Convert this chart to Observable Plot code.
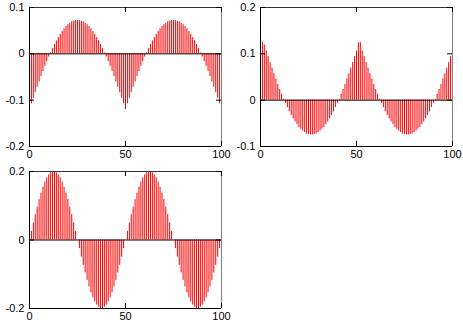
<!DOCTYPE html>
<html><head><meta charset="utf-8">
<script src="https://cdn.jsdelivr.net/npm/d3@7"></script>
<script src="https://cdn.jsdelivr.net/npm/@observablehq/plot@0.6"></script>
<style>
body{margin:0;background:#fff;}
#wrap{position:relative;width:463px;height:327px;overflow:hidden;background:#fff;}
.panel{position:absolute;}
.panel svg{display:block;}
</style></head><body><div id="wrap"></div>
<script>
const xValues = d3.range(0, 101);
const xTicks = [0, 50, 100];

const ticksA = [-0.2, -0.1, 0, 0.1];
const ticksB = [-0.1, 0, 0.1, 0.2];
const ticksC = [-0.2, 0, 0.2];

const seriesA = [
 -0.120,-0.108,-0.096,-0.084,-0.072,-0.061,-0.049,-0.038,-0.027,-0.017,-0.007,
 0.002,0.011,0.020,0.028,0.035,0.042,0.048,0.054,0.059,0.063,
 0.066,0.069,0.070,0.072,0.072,0.072,0.070,0.069,0.066,0.063,
 0.059,0.054,0.048,0.042,0.035,0.028,0.020,0.011,0.002,-0.007,
 -0.017,-0.027,-0.038,-0.049,-0.061,-0.072,-0.084,-0.096,-0.108,-0.120,
 -0.108,-0.096,-0.084,-0.072,-0.061,-0.049,-0.038,-0.027,-0.017,-0.007,
 0.002,0.011,0.020,0.028,0.035,0.042,0.048,0.054,0.059,0.063,
 0.066,0.069,0.070,0.072,0.072,0.072,0.070,0.069,0.066,0.063,
 0.059,0.054,0.048,0.042,0.035,0.028,0.020,0.011,0.002,-0.007,
 -0.017,-0.027,-0.038,-0.049,-0.061,-0.072,-0.084,-0.096,-0.108,-0.120
];

const seriesB = [
 0.125,0.125,
 0.119,0.106,0.094,0.081,0.069,0.057,0.046,0.034,0.023,0.013,0.002,-0.007,-0.016,-0.025,-0.033,-0.040,-0.047,-0.053,-0.059,-0.063,-0.067,-0.070,-0.073,-0.074,-0.075,
 -0.075,-0.074,-0.073,-0.070,-0.067,-0.063,-0.059,-0.053,-0.047,-0.040,-0.033,-0.025,-0.016,-0.007,0.002,0.013,0.023,0.034,0.046,0.057,0.069,0.081,0.094,0.106,0.124,
 0.124,0.106,0.094,0.081,0.069,0.057,0.046,0.034,0.023,0.013,0.002,-0.007,-0.016,-0.025,-0.033,-0.040,-0.047,-0.053,-0.059,-0.063,-0.067,-0.070,-0.073,-0.074,-0.075,
 -0.075,-0.074,-0.073,-0.070,-0.067,-0.063,-0.059,-0.053,-0.047,-0.040,-0.033,-0.025,-0.016,-0.007,0.002,0.013,0.023,0.034,0.046,0.057,0.069,0.081,0.094,0.106
];

const seriesC = [
 0,0.025,0.050,0.074,0.096,0.118,0.137,0.154,0.169,0.181,0.190,0.196,0.200,0.200,0.196,0.190,0.181,0.169,0.154,0.137,0.118,0.096,0.074,0.050,0.025,0,
 -0.025,-0.050,-0.074,-0.096,-0.118,-0.137,-0.154,-0.169,-0.181,-0.190,-0.196,-0.200,-0.200,-0.196,-0.190,-0.181,-0.169,-0.154,-0.137,-0.118,-0.096,-0.074,-0.050,-0.025,0,
 0.025,0.050,0.074,0.096,0.118,0.137,0.154,0.169,0.181,0.190,0.196,0.200,0.200,0.196,0.190,0.181,0.169,0.154,0.137,0.118,0.096,0.074,0.050,0.025,0,
 -0.025,-0.050,-0.074,-0.096,-0.118,-0.137,-0.154,-0.169,-0.181,-0.190,-0.196,-0.200,-0.200,-0.196,-0.190,-0.181,-0.169,-0.154,-0.137,-0.118,-0.096,-0.074,-0.050,-0.025,0
];

const fmt = d => String(d);

function makePanel(p) {
  const innerW = p.width - p.ml - p.mr, innerH = p.height - p.mt - p.mb;
  const chart = Plot.plot({
    width: p.width, height: p.height,
    marginLeft: p.ml, marginRight: p.mr, marginTop: p.mt, marginBottom: p.mb,
    x: {domain: [0, 100]},
    y: {domain: p.yDomain},
    style: {fontFamily: '"Liberation Sans", Arial, sans-serif', fontSize: "11px", color: "#000", background: "#fff"},
    marks: [
      Plot.ruleX(xValues, {x: d => d, y1: 0, y2: d => p.values[d], stroke: "#ff0000", strokeWidth: 1}),
      Plot.ruleY([0], {stroke: "#000"}),
      Plot.ruleY([p.yDomain[1]], {stroke: "#333"}),
      Plot.ruleX([100], {stroke: "#808080"}),
      Plot.ruleX([0], {stroke: "#000"}),
      Plot.ruleY([p.yDomain[0]], {stroke: "#000"}),
      Plot.tickX(xTicks, {x: d => d, insetBottom: innerH - 5, stroke: "#000"}),
      Plot.tickX(xTicks, {x: d => d, insetTop: innerH - 5, stroke: "#000"}),
      Plot.tickY(p.yTicks, {y: d => d, insetRight: innerW - 5, stroke: "#000"}),
      Plot.tickY(p.yTicks, {y: d => d, insetLeft: innerW - 5, stroke: "#000"}),
      Plot.axisX(xTicks, {tickSize: 0, tickPadding: 4, tickFormat: fmt}),
      Plot.axisY(p.yTicks, {tickSize: 0, tickPadding: 5, tickFormat: fmt})
    ]
  });
  const div = document.createElement("div");
  div.className = "panel";
  div.style.left = p.left + "px";
  div.style.top = p.top + "px";
  div.appendChild(chart);
  document.getElementById("wrap").appendChild(div);
}

makePanel({values: seriesA, yDomain: [-0.2, 0.1], yTicks: ticksA, left: 0, top: 0, width: 231, height: 163, ml: 29, mr: 10, mt: 7, mb: 17});
makePanel({values: seriesB, yDomain: [-0.1, 0.2], yTicks: ticksB, left: 231, top: 0, width: 232, height: 163, ml: 29, mr: 11, mt: 7, mb: 17});
makePanel({values: seriesC, yDomain: [-0.2, 0.2], yTicks: ticksC, left: 0, top: 163, width: 231, height: 164, ml: 29, mr: 10, mt: 8, mb: 19});
</script>
</body></html>
